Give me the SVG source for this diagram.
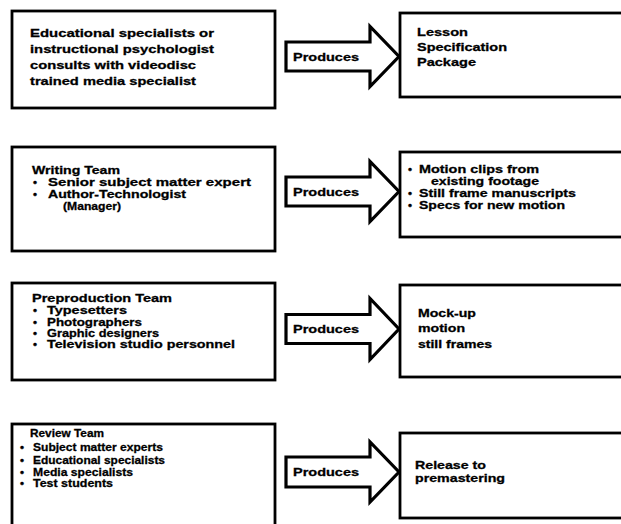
<svg xmlns="http://www.w3.org/2000/svg" width="621" height="524" viewBox="0 0 621 524">
<style>
.box{fill:#fff;stroke:#000;stroke-width:2.8}
.arr{fill:#fff;stroke:#000;stroke-width:3.2;stroke-linejoin:miter}
text{font-family:"Liberation Sans",Arial,sans-serif;font-weight:bold;font-size:11.5px;fill:#000;stroke:#000;stroke-width:0.3}
</style>
<rect width="621" height="524" fill="#fff"/>
<g id="connectors">
  <g id="arrow1" transform="translate(0,56.5)">
    <path class="arr" d="M286,-14.5 L370,-14.5 L370,-30 L399,0 L370,30 L370,14.5 L286,14.5 Z"/>
    <text x="293" y="4" textLength="66" lengthAdjust="spacingAndGlyphs">Produces</text>
  </g>
  <g id="arrow2" transform="translate(0,191.5)">
    <path class="arr" d="M286,-14.5 L370,-14.5 L370,-30 L399,0 L370,30 L370,14.5 L286,14.5 Z"/>
    <text x="293" y="4" textLength="66" lengthAdjust="spacingAndGlyphs">Produces</text>
  </g>
  <g id="arrow3" transform="translate(0,329)">
    <path class="arr" d="M286,-14.5 L370,-14.5 L370,-30.5 L399,0 L370,30.5 L370,14.5 L286,14.5 Z"/>
    <text x="293" y="4" textLength="66" lengthAdjust="spacingAndGlyphs">Produces</text>
  </g>
  <g id="arrow4" transform="translate(0,472)">
    <path class="arr" d="M286,-15 L370,-15 L370,-30 L399,0 L370,30 L370,15 L286,15 Z"/>
    <text x="293" y="4" textLength="66" lengthAdjust="spacingAndGlyphs">Produces</text>
  </g>
</g>
<g id="src1">
  <rect class="box" x="12" y="11" width="263" height="97"/>
  <text x="30" y="37" textLength="184" lengthAdjust="spacingAndGlyphs">Educational specialists or</text>
  <text x="30" y="53" textLength="184" lengthAdjust="spacingAndGlyphs">instructional psychologist</text>
  <text x="30" y="69" textLength="166" lengthAdjust="spacingAndGlyphs">consults with videodisc</text>
  <text x="30" y="85" textLength="166" lengthAdjust="spacingAndGlyphs">trained media specialist</text>
</g>
<g id="out1">
  <rect class="box" x="400" y="13" width="240" height="84"/>
  <text x="417" y="36" textLength="51" lengthAdjust="spacingAndGlyphs">Lesson</text>
  <text x="417" y="51" textLength="90" lengthAdjust="spacingAndGlyphs">Specification</text>
  <text x="417" y="66" textLength="59" lengthAdjust="spacingAndGlyphs">Package</text>
</g>
<g id="src2">
  <rect class="box" x="12" y="147" width="263" height="104"/>
  <text x="32" y="174" textLength="88" lengthAdjust="spacingAndGlyphs">Writing Team</text>
  <text x="33" y="186">•</text>
  <text x="48" y="186" textLength="203" lengthAdjust="spacingAndGlyphs">Senior subject matter expert</text>
  <text x="33" y="198">•</text>
  <text x="48" y="198" textLength="138" lengthAdjust="spacingAndGlyphs">Author-Technologist</text>
  <text x="63" y="210" textLength="58" lengthAdjust="spacingAndGlyphs">(Manager)</text>
</g>
<g id="out2">
  <rect class="box" x="400" y="152" width="240" height="85"/>
  <text x="408" y="173">•</text>
  <text x="419" y="173" textLength="120" lengthAdjust="spacingAndGlyphs">Motion clips from</text>
  <text x="431" y="185" textLength="108" lengthAdjust="spacingAndGlyphs">existing footage</text>
  <text x="408" y="197">•</text>
  <text x="419" y="197" textLength="157" lengthAdjust="spacingAndGlyphs">Still frame manuscripts</text>
  <text x="408" y="209">•</text>
  <text x="419" y="209" textLength="146" lengthAdjust="spacingAndGlyphs">Specs for new motion</text>
</g>
<g id="src3">
  <rect class="box" x="12" y="283" width="263" height="97"/>
  <text x="32" y="302" textLength="140" lengthAdjust="spacingAndGlyphs">Preproduction Team</text>
  <text x="33" y="314">•</text>
  <text x="47" y="314" textLength="80" lengthAdjust="spacingAndGlyphs">Typesetters</text>
  <text x="33" y="326">•</text>
  <text x="47" y="326" textLength="95" lengthAdjust="spacingAndGlyphs">Photographers</text>
  <text x="33" y="337">•</text>
  <text x="47" y="337" textLength="112" lengthAdjust="spacingAndGlyphs">Graphic designers</text>
  <text x="33" y="348">•</text>
  <text x="47" y="348" textLength="188" lengthAdjust="spacingAndGlyphs">Television studio personnel</text>
</g>
<g id="out3">
  <rect class="box" x="400" y="285" width="240" height="92"/>
  <text x="418" y="317" textLength="58" lengthAdjust="spacingAndGlyphs">Mock-up</text>
  <text x="418" y="332" textLength="47" lengthAdjust="spacingAndGlyphs">motion</text>
  <text x="418" y="348" textLength="74" lengthAdjust="spacingAndGlyphs">still frames</text>
</g>
<g id="src4">
  <rect class="box" x="12" y="424" width="263" height="110"/>
  <text x="30" y="437" textLength="74" lengthAdjust="spacingAndGlyphs">Review Team</text>
  <text x="20" y="451">•</text>
  <text x="33" y="451" textLength="130" lengthAdjust="spacingAndGlyphs">Subject matter experts</text>
  <text x="20" y="464">•</text>
  <text x="33" y="464" textLength="132" lengthAdjust="spacingAndGlyphs">Educational specialists</text>
  <text x="20" y="476">•</text>
  <text x="33" y="476" textLength="100" lengthAdjust="spacingAndGlyphs">Media specialists</text>
  <text x="20" y="487">•</text>
  <text x="33" y="487" textLength="80" lengthAdjust="spacingAndGlyphs">Test students</text>
</g>
<g id="out4">
  <rect class="box" x="400" y="433" width="240" height="85"/>
  <text x="415" y="469" textLength="71" lengthAdjust="spacingAndGlyphs">Release to</text>
  <text x="415" y="482" textLength="90" lengthAdjust="spacingAndGlyphs">premastering</text>
</g>
</svg>
